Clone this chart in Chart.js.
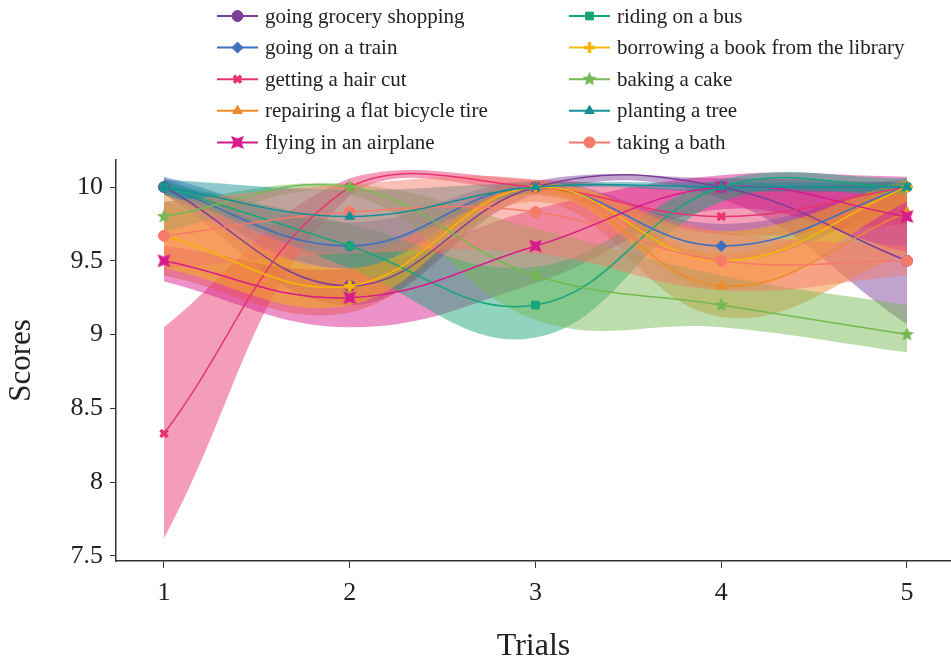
<!DOCTYPE html>
<html><head><meta charset="utf-8">
<script src="https://cdn.jsdelivr.net/npm/chart.js@4.4.1/dist/chart.umd.min.js"></script>
<style>html,body{margin:0;padding:0;background:#fff}#wrap{width:951px;height:667px;position:relative}</style>
</head><body><div id="wrap"><canvas id="c" width="951" height="667"></canvas></div>
<script>
// ---- data ----
const trials = [1, 2, 3, 4, 5];
const xTicks = [1, 2, 3, 4, 5];
const yTicks = [7.5, 8, 8.5, 9, 9.5, 10];
const seriesNames = ["going grocery shopping","going on a train","getting a hair cut","repairing a flat bicycle tire","flying in an airplane","riding on a bus","borrowing a book from the library","baking a cake","planting a tree","taking a bath"];

const groceryMean = [10, 9.33, 10, 10, 9.5];
const groceryLow  = [9.95, 9.2, 9.95, 9.92, 9.07];
const groceryHigh = [10.06, 9.6, 10.04, 10.06, 10.03];

const trainMean = [10, 9.6, 10, 9.6, 10];
const trainLow  = [9.95, 9.45, 9.95, 9.5, 9.9];
const trainHigh = [10.07, 9.76, 10.04, 9.75, 10.04];

const hairMean = [8.33, 10, 10, 9.8, 10];
const hairLow  = [7.62, 9.94, 9.95, 9.68, 9.75];
const hairHigh = [9.05, 10.06, 10.05, 9.98, 10.05];

const bicycleMean = [9.67, 9.33, 10, 9.33, 9.83];
const bicycleLow  = [9.4, 9.15, 9.9, 9.12, 9.55];
const bicycleHigh = [9.97, 9.55, 10.04, 9.55, 10.05];

const airplaneMean = [9.5, 9.25, 9.6, 10, 9.8];
const airplaneLow  = [9.36, 9.05, 9.35, 9.85, 9.56];
const airplaneHigh = [9.6, 9.45, 9.85, 10.08, 10.07];

const busMean = [10, 9.6, 9.2, 10, 10];
const busLow  = [9.97, 9.45, 8.98, 9.9, 9.95];
const busHigh = [10.03, 9.75, 9.46, 10.05, 10.06];

const libraryMean = [9.67, 9.33, 10, 9.5, 10];
const libraryLow  = [9.45, 9.2, 9.95, 9.3, 9.9];
const libraryHigh = [9.9, 9.45, 10.02, 9.7, 10.05];

const cakeMean = [9.8, 10, 9.4, 9.2, 9.0];
const cakeLow  = [9.7, 9.95, 9.1, 9.05, 8.88];
const cakeHigh = [9.9, 10.02, 9.72, 9.4, 9.2];

const treeMean = [10, 9.8, 10, 10, 10];
const treeLow  = [9.95, 9.6, 9.97, 9.97, 9.97];
const treeHigh = [10.05, 9.98, 10.03, 10.03, 10.03];

const bathMean = [9.67, 9.83, 9.83, 9.5, 9.5];
const bathLow  = [9.45, 9.55, 9.55, 9.3, 9.4];
const bathHigh = [9.9, 10.02, 10.05, 9.7, 9.6];

// ---- styles ----
const colors = ["#7c3f98","#3f6fbf","#e8336d","#ef8a2a","#d81b8c","#17a67a","#f5b70a","#76b852","#158f96","#f67a6a"];
function rgba(hex,a){const n=parseInt(hex.slice(1),16);return `rgba(${n>>16},${(n>>8)&255},${n&255},${a})`;}
function starCanvas(color,r){const c=document.createElement('canvas');c.width=c.height=Math.ceil(2*r+2);const g=c.getContext('2d');g.fillStyle=color;g.beginPath();for(let i=0;i<10;i++){const rr=i%2?r*0.45:r;const a=-Math.PI/2+i*Math.PI/5;const px=c.width/2+rr*Math.cos(a),py=c.height/2+rr*Math.sin(a);i?g.lineTo(px,py):g.moveTo(px,py);}g.closePath();g.fill();return c;}
function bowCanvas(color,r){const c=document.createElement('canvas');c.width=c.height=Math.ceil(2*r+2);const g=c.getContext('2d');const m=c.width/2;g.fillStyle=color;g.beginPath();g.moveTo(m-r,m-r);g.lineTo(m,m-r*0.6);g.lineTo(m+r,m-r);g.lineTo(m+r*0.6,m);g.lineTo(m+r,m+r);g.lineTo(m,m+r*0.6);g.lineTo(m-r,m+r);g.lineTo(m-r*0.6,m);g.closePath();g.fill();return c;}
const pointStyles = ['circle','rectRot','crossRot','triangle',bowCanvas(colors[4],6.5),'rect',"cross",starCanvas(colors[7],7.5),'triangle','circle'];
const pointRadii = [5.5,5.5,5,5.5,6.5,5.5,5.5,7.5,5.5,5.5];
const pointBorders = [1,1,3.5,1,1,1,3.5,1,1,1];
const drawOrder = [9,8,7,6,1,5,4,3,0,2];

const means = [groceryMean,trainMean,hairMean,bicycleMean,airplaneMean,busMean,libraryMean,cakeMean,treeMean,bathMean];
const lows = [groceryLow,trainLow,hairLow,bicycleLow,airplaneLow,busLow,libraryLow,cakeLow,treeLow,bathLow];
const highs = [groceryHigh,trainHigh,hairHigh,bicycleHigh,airplaneHigh,busHigh,libraryHigh,cakeHigh,treeHigh,bathHigh];
const pts = arr => trials.map((t,i)=>({x:t,y:arr[i]}));

const datasets = [];
seriesNames.forEach((n,i)=>{
  datasets.push({label:n,data:pts(means[i]),borderColor:colors[i],backgroundColor:colors[i],borderWidth:1.5,tension:0.4,order:drawOrder[i],
    pointStyle:pointStyles[i],pointRadius:pointRadii[i],pointBorderWidth:pointBorders[i],pointBackgroundColor:colors[i],pointBorderColor:colors[i],fill:false});
});
seriesNames.forEach((n,i)=>{
  datasets.push({label:'_hi'+i,data:pts(highs[i]),borderWidth:0,borderColor:'rgba(0,0,0,0)',backgroundColor:rgba(colors[i],0.48),pointRadius:0,tension:0.4,fill:'+1',order:100-i});
  datasets.push({label:'_lo'+i,data:pts(lows[i]),borderWidth:0,borderColor:'rgba(0,0,0,0)',backgroundColor:'rgba(0,0,0,0)',pointRadius:0,tension:0.4,fill:false,order:100-i});
});

const legendPlugin = {id:'customLegend',afterDraw(chart){
  const ctx=chart.ctx;ctx.save();
  ctx.font='21px "Liberation Serif"';ctx.textBaseline='middle';
  seriesNames.forEach((n,i)=>{
    const col=i<5?0:1,row=i%5;const x0=col?569:217;const y=16+row*31.6;
    ctx.strokeStyle=colors[i];ctx.lineWidth=2;ctx.beginPath();ctx.moveTo(x0,y);ctx.lineTo(x0+41,y);ctx.stroke();
    ctx.fillStyle=colors[i];ctx.strokeStyle=colors[i];ctx.lineWidth=pointBorders[i];
    Chart.helpers.drawPoint(ctx,{pointStyle:pointStyles[i],radius:pointRadii[i],borderWidth:pointBorders[i],rotation:0},x0+20.5,y);
    ctx.fillStyle='#222';ctx.fillText(n,x0+48,y+1);
  });
  ctx.restore();
}};

new Chart(document.getElementById('c'),{
  type:'line',
  data:{datasets},
  plugins:[legendPlugin],
  options:{
    responsive:false,animation:false,devicePixelRatio:1,
    layout:{autoPadding:false,padding:{top:160,left:0,right:0,bottom:0}},
    plugins:{legend:{display:false},tooltip:{enabled:false}},
    scales:{
      x:{type:'linear',min:0.7416,max:5.2369,
        afterBuildTicks:s=>{s.ticks=xTicks.map(v=>({value:v}));},
        afterFit:s=>{s.height=106;},
        grid:{drawOnChartArea:false,drawTicks:true,tickLength:7,tickColor:'#333',tickWidth:1},
        border:{display:true,color:'#333',width:1.5},
        ticks:{font:{family:'"Liberation Serif"',size:26},color:'#222',padding:10,callback:v=>String(v)},
        title:{display:true,text:'Trials',font:{family:'"Liberation Serif"',size:32},color:'#222',padding:{top:0,bottom:1}}},
      y:{type:'linear',min:7.466,max:10.183,
        afterBuildTicks:s=>{s.ticks=yTicks.map(v=>({value:v}));},
        afterFit:s=>{s.width=116;},
        grid:{drawOnChartArea:false,drawTicks:true,tickLength:6,tickColor:'#333',tickWidth:1},
        border:{display:true,color:'#333',width:1.5},
        ticks:{font:{family:'"Liberation Serif"',size:26},color:'#222',padding:7,callback:v=>String(v)},
        title:{display:true,text:'Scores',font:{family:'"Liberation Serif"',size:31},color:'#222',padding:{top:3,bottom:0}}}
    }
  }
});
</script></body></html>
